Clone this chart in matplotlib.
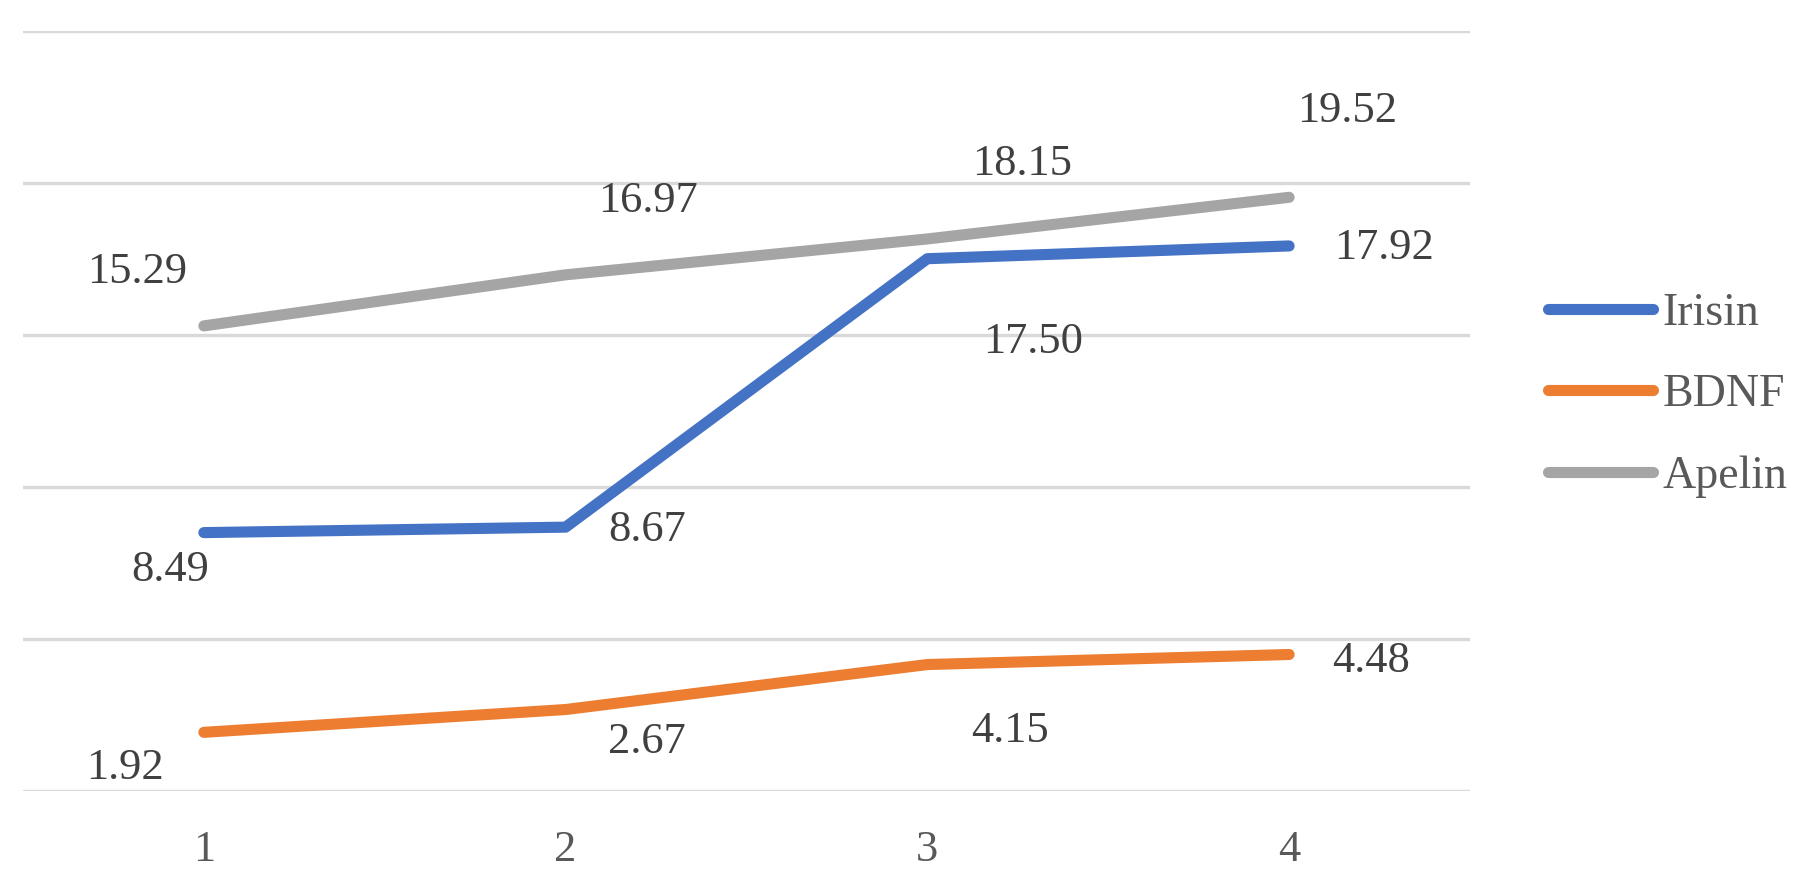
import matplotlib
matplotlib.use("Agg")
import matplotlib.pyplot as plt

plt.rcParams['font.family'] = ['Liberation Serif', 'DejaVu Serif']

# data
categories = [1, 2, 3, 4]
irisin = [8.49, 8.67, 17.50, 17.92]
bdnf = [1.92, 2.67, 4.15, 4.48]
apelin = [15.29, 16.97, 18.15, 19.52]
series_names = ['Irisin', 'BDNF', 'Apelin']

colors = ['#4472C4', '#ED7D31', '#A5A5A5']
# label offsets in pixels (dx, dy), dy positive = up
label_offsets = [
    [(-34, -37), (82, -3), (106, -83), (95, -2)],
    [(-79, -36), (81, -32), (83, -66), (82, -6)],
    [(-67, 54), (82, 74), (95, 75), (58, 86)],
]

fig = plt.figure(figsize=(17.99, 8.77), dpi=100)
ax = fig.add_axes([23 / 1799, 1 - 790.7 / 877, (1470 - 23) / 1799, (790.7 - 30.7) / 877])

lines = []
for vals, name, col, offs in zip([irisin, bdnf, apelin], series_names, colors, label_offsets):
    ln, = ax.plot(categories, vals, color=col, lw=8, solid_capstyle='round',
                  solid_joinstyle='round', label=name, zorder=3)
    lines.append(ln)
    for x, v, (dx, dy) in zip(categories, vals, offs):
        ax.annotate('{:.2f}'.format(v), (x, v), xytext=(dx, dy), textcoords='offset pixels',
                    ha='center', va='center', fontsize=32, color='#404040')

ax.set_xlim(0.5, 4.5)
ax.set_ylim(0, 25)
ax.set_yticks(range(0, 26, 5))
ax.yaxis.grid(True, color='#D9D9D9', lw=2.4)
ax.set_axisbelow(True)
ax.tick_params(axis='y', left=False, labelleft=False)
ax.set_xticks(categories)
ax.tick_params(axis='x', length=0, pad=28, labelsize=32, labelcolor='#595959')
for s in ax.spines.values():
    s.set_visible(False)

fig.legend(handles=lines, loc='center left', bbox_to_anchor=(1548 / 1799, 1 - 395 / 877),
           bbox_transform=fig.transFigure, frameon=False, fontsize=33, borderpad=0,
           borderaxespad=0, handlelength=2.29, handletextpad=0.2, labelspacing=0.85,
           labelcolor='#595959')

fig.savefig('out.png', dpi=100)
